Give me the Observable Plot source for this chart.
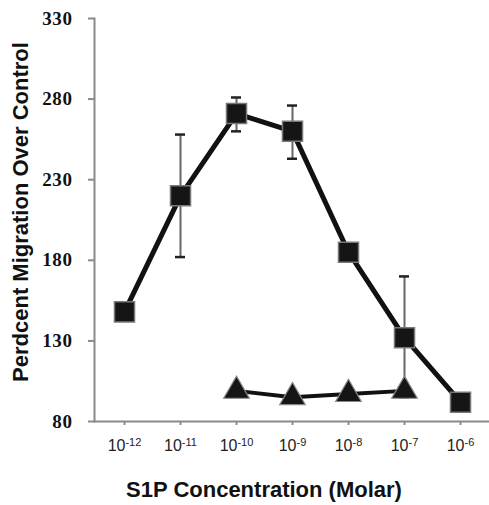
<!DOCTYPE html>
<html>
<head>
<meta charset="utf-8">
<script src="https://cdn.jsdelivr.net/npm/d3@7"></script>
<script src="https://cdn.jsdelivr.net/npm/@observablehq/plot@0.6"></script>
<style>
  html, body { margin: 0; padding: 0; background: #fff; }
  svg { font-family: "Liberation Sans", Arial, sans-serif; }
</style>
</head>
<body>
<div id="chart"></div>
<script>
// Categories (powers of ten, molar)
const exponents = [-12, -11, -10, -9, -8, -7, -6];
// S1P series (squares)
const s1pMean = [148, 220, 271, 260, 185, 132, 92];
const s1pErrLow = [null, 182, 260, 243, null, 95, null];
const s1pErrHigh = [null, 258, 281, 276, null, 170, null];
// Control series (triangles)
const ctrlExponents = [-10, -9, -8, -7];
const ctrlMean = [99, 95, 97, 99];
// Y ticks
const yTicks = [80, 130, 180, 230, 280, 330];

const s1p = exponents.map((e, i) => ({e, v: s1pMean[i], lo: s1pErrLow[i], hi: s1pErrHigh[i]}));
const errs = s1p.filter(d => d.lo != null);
const ctrl = ctrlExponents.map((e, i) => ({e, v: ctrlMean[i]}));

const chart = Plot.plot({
  width: 489,
  height: 505,
  marginLeft: 94,
  marginRight: 0,
  marginTop: 18,
  marginBottom: 84,
  x: {type: "band", domain: exponents, padding: 0},
  y: {domain: [80, 330]},
  marks: [
    Plot.frame({anchor: "left", stroke: "#8a8a8a", strokeWidth: 2}),
    Plot.ruleY([80], {stroke: "#8a8a8a", strokeWidth: 2}),
    Plot.axisY({ticks: yTicks, tickSize: 6, tickPadding: 16, stroke: "#8a8a8a", strokeWidth: 2,
      fill: "#111", label: null}),
    Plot.axisX({tickSize: 4, tickPadding: 14, stroke: "#8a8a8a", strokeWidth: 2,
      fill: "#222", tickFormat: d => "10" + d, label: null}),
    Plot.ruleX(errs, {x: "e", y1: "lo", y2: "hi", stroke: "#666", strokeWidth: 2}),
    Plot.tickY(errs, {x: "e", y: "hi", stroke: "#222", strokeWidth: 2.5, insetLeft: 23, insetRight: 23}),
    Plot.tickY(errs, {x: "e", y: "lo", stroke: "#222", strokeWidth: 2.5, insetLeft: 23, insetRight: 23}),
    Plot.line(s1p, {x: "e", y: "v", stroke: "#111", strokeWidth: 5}),
    Plot.line(ctrl, {x: "e", y: "v", stroke: "#111", strokeWidth: 4}),
    Plot.dot(s1p, {x: "e", y: "v", symbol: "square", r: 11.3, fill: "#151515", stroke: "#777", strokeWidth: 1.5}),
    Plot.dot(ctrl, {x: "e", y: "v", symbol: "triangle", r: 9.5, fill: "#151515", stroke: "#888", strokeWidth: 1.2}),
    Plot.text(["Perdcent Migration Over Control"], {frameAnchor: "left", textAnchor: "middle", lineAnchor: "middle",
      rotate: -90, dx: -74, dy: -8, fontSize: 22, fontWeight: "bold", fill: "#111"}),
    Plot.text(["S1P Concentration (Molar)"], {frameAnchor: "bottom", textAnchor: "middle", lineAnchor: "bottom",
      dx: -28, dy: 75, fontSize: 22, fontWeight: "bold", fill: "#111"})
  ]
});
document.getElementById("chart").appendChild(chart);

// y tick labels: serif bold
chart.querySelectorAll('g[aria-label="y-axis tick label"]').forEach(g => {
  g.setAttribute("font-family", "Liberation Serif, Times New Roman, serif");
  g.setAttribute("font-weight", "bold");
  g.setAttribute("font-size", "19");
  g.setAttribute("letter-spacing", "0.6");
});
// x tick labels with superscript exponents
chart.querySelectorAll('g[aria-label="x-axis tick label"]').forEach(g => g.setAttribute("font-size", "16"));
chart.querySelectorAll('g[aria-label="x-axis tick label"] text').forEach(t => {
  t.setAttribute("font-size", "16");
  const s = t.textContent;
  const exp = s.slice(2);
  t.textContent = "10";
  const ts = document.createElementNS("http://www.w3.org/2000/svg", "tspan");
  ts.setAttribute("dy", "-5");
  ts.setAttribute("font-size", "11");
  ts.textContent = exp;
  t.appendChild(ts);
});
</script>
</body>
</html>
